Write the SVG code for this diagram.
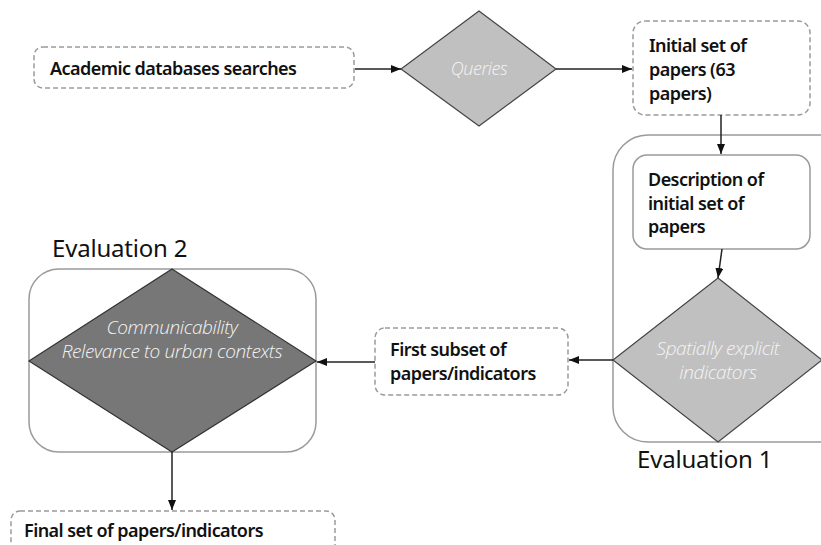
<svg xmlns="http://www.w3.org/2000/svg" width="821" height="545" viewBox="0 0 821 545">
<defs>
<marker id="arr" markerWidth="10" markerHeight="8" refX="10" refY="4" orient="auto" markerUnits="userSpaceOnUse">
<path d="M0,0 L10,4 L0,8 Z" fill="#111"/>
</marker>
<style>
.dash{fill:#fff;stroke:#9a9a9a;stroke-width:1.5;stroke-dasharray:5 3}
.solid{fill:#fff;stroke:#9a9a9a;stroke-width:1.5}
.cont{fill:none;stroke:#9a9a9a;stroke-width:1.5}
.dl{fill:#c0c0c0;stroke:#444;stroke-width:1.2}
.dd{fill:#777;stroke:#333;stroke-width:1.2}
.t{font-family:"Noto Sans","Open Sans",sans-serif;font-size:18px;font-weight:600;fill:#111;letter-spacing:-0.55px}
.ti{font-family:"Open Sans","Noto Sans",sans-serif;font-style:italic;font-weight:300;font-size:19px;fill:#f4f4f4;text-anchor:middle;letter-spacing:-0.4px}
.big{font-family:"Noto Sans","Open Sans",sans-serif;font-size:24px;fill:#111;letter-spacing:-0.2px}
.c{stroke:#222;stroke-width:1.5;fill:none;marker-end:url(#arr)}
</style>
</defs>
<rect width="821" height="545" fill="#fff"/>

<g id="evaluation1">
<rect class="cont" x="613" y="135" width="240" height="307" rx="35"/>
<text class="big" x="637" y="468">Evaluation 1</text>
</g>
<g id="evaluation2">
<rect class="cont" x="29" y="269" width="287" height="183" rx="30"/>
<text class="big" x="52" y="257">Evaluation 2</text>
</g>

<g id="academic">
<rect class="dash" x="34" y="47" width="320" height="41" rx="9"/>
<text class="t" x="50" y="75">Academic databases searches</text>
</g>
<g id="queries">
<polygon class="dl" points="479,11 556,69 479,126 401,69"/>
<text class="ti" x="479" y="75" style="font-size:18px">Queries</text>
</g>
<g id="initial">
<rect class="dash" x="633" y="21" width="177" height="94" rx="12"/>
<text class="t" x="649" y="52">Initial set of</text>
<text class="t" x="649" y="76">papers (63</text>
<text class="t" x="649" y="100">papers)</text>
</g>
<g id="description">
<rect class="solid" x="633" y="155" width="177" height="94" rx="14"/>
<text class="t" x="648" y="186">Description of</text>
<text class="t" x="648" y="210">initial set of</text>
<text class="t" x="648" y="233">papers</text>
</g>
<g id="spatially">
<polygon class="dl" points="718,278 822,360 718,442 613,360"/>
<text class="ti" x="718" y="355">Spatially explicit</text>
<text class="ti" x="718" y="379">indicators</text>
</g>
<g id="firstsubset">
<rect class="dash" x="375" y="328" width="193" height="67" rx="10"/>
<text class="t" x="390" y="356">First subset of</text>
<text class="t" x="390" y="380">papers/indicators</text>
</g>
<g id="communicability">
<polygon class="dd" points="172,269 316,361 172,452 29,361"/>
<text class="ti" x="172" y="334">Communicability</text>
<text class="ti" x="172" y="358">Relevance to urban contexts</text>
</g>
<g id="final">
<rect class="dash" x="11" y="511" width="324" height="50" rx="9"/>
<text class="t" x="24" y="537">Final set of papers/indicators</text>
</g>

<g id="connectors">
<line class="c" x1="355" y1="69" x2="401" y2="69"/>
<line class="c" x1="556" y1="69" x2="632" y2="69"/>
<line class="c" x1="721" y1="115" x2="721" y2="154"/>
<line class="c" x1="722" y1="249" x2="718" y2="278"/>
<line class="c" x1="613" y1="360" x2="569" y2="360"/>
<line class="c" x1="375" y1="362" x2="317" y2="362"/>
<line class="c" x1="172" y1="452" x2="172" y2="510"/>
</g>
</svg>
